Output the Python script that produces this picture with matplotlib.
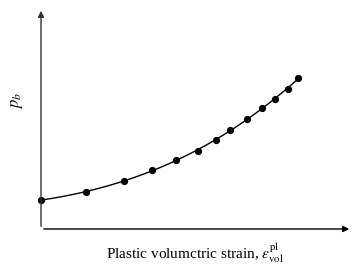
import numpy as np
import matplotlib
matplotlib.use("Agg")
from matplotlib import pyplot as plt

# data (arbitrary units)
strain = [0, 45, 83, 111, 135, 157, 175, 189, 206, 221, 234, 247, 257]
pb = [29, 37, 48, 59, 69, 78, 89, 99, 110, 121, 130, 140, 151]

plt.rcParams['font.family'] = ['Liberation Serif', 'DejaVu Serif']
plt.rcParams['mathtext.fontset'] = 'stix'

fig = plt.figure(figsize=(3.6, 2.68), dpi=100)
ax = fig.add_axes([41/360, 39/268, 311/360, 221/268])
ax.set_xlim(0, 311)
ax.set_ylim(0, 221)
for s in ax.spines.values():
    s.set_visible(False)
ax.set_xticks([])
ax.set_yticks([])

# axes drawn as arrows
ax.annotate('', xy=(311, 0), xytext=(0, 0), annotation_clip=False,
            arrowprops=dict(arrowstyle='-|>', color='black', lw=1.0, mutation_scale=9))
ax.annotate('', xy=(0, 221), xytext=(0, 0), annotation_clip=False,
            arrowprops=dict(arrowstyle='-|>', color='#333333', lw=1.0, mutation_scale=9))

# smooth trend line through the points
coef = np.polyfit(strain, pb, 3)
xs = np.linspace(strain[0], strain[-1], 200)
ax.plot(xs, np.polyval(coef, xs), color='black', lw=1.0, clip_on=False)
ax.plot(strain, pb, 'o', color='black', markersize=4.2, clip_on=False)

fig.text(195/360, 1 - 253/268, r'Plastic volumctric strain, $\varepsilon^{\rm pl}_{\rm vol}$',
         ha='center', va='center', fontsize=11)
fig.text(17/360, 1 - 100/268, r'$p_b$', rotation=90, ha='center', va='center', fontsize=12)

fig.savefig('out.png', dpi=100)
